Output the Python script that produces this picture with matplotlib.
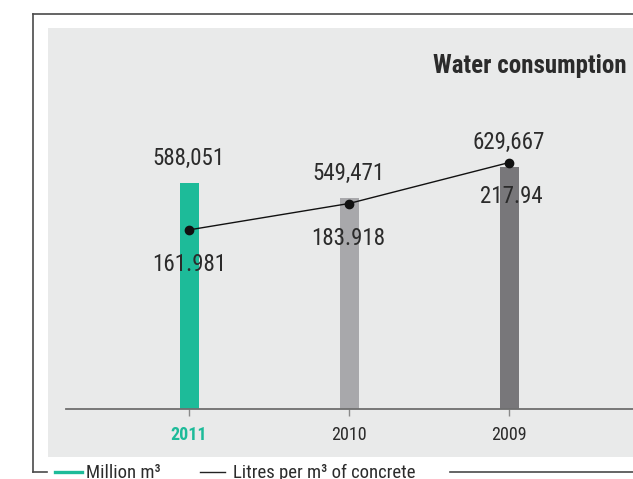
import matplotlib
matplotlib.use("Agg")
import os
import matplotlib.pyplot as plt
from matplotlib import font_manager
from matplotlib.font_manager import FontProperties
from matplotlib.lines import Line2D

# Data
years = ["2011", "2010", "2009"]
million_m3 = [588051, 549471, 629667]
million_labels = ["588,051", "549,471", "629,667"]
litres_per_m3 = [161.981, 183.918, 217.94]
litres_labels = ["161.981", "183.918", "217.94"]

TEAL = "#1dbb99"
BAR_COLORS = [TEAL, "#a8a8ab", "#78777a"]
PANEL = "#e9eaea"
TEXT = "#2b2b2b"


def pick_font(candidates, bold=False):
    """Return the first narrow/condensed sans font file found on the system."""
    files = [f.fname for f in font_manager.fontManager.ttflist]
    for cand in candidates:
        for fn in files:
            base = os.path.basename(fn).lower()
            if cand in base:
                if bold and "bold" not in base:
                    continue
                if not bold and ("bold" in base or "italic" in base or "oblique" in base
                                 or "light" in base or "thin" in base or "medium" in base
                                 or "black" in base or "semi" in base or "extra" in base):
                    continue
                return fn
    return None


regular_order = ["liberationsansnarrow-regular", "liberationsansnarrow",
                 "robotocondensed-regular", "robotocondensed",
                 "opensans_condensed-regular", "opensanscondensed",
                 "dejavusanscondensed.ttf", "dejavusanscondensed"]
bold_order = ["liberationsansnarrow-bold", "liberationsansnarrow",
              "robotocondensed-bold", "robotocondensed",
              "opensans_condensed-bold", "opensanscondensed",
              "dejavusanscondensed-bold", "dejavusanscondensed"]

reg_file = pick_font(regular_order)
bold_file = pick_font(bold_order, bold=True)


def fp(size, bold=False):
    f = bold_file if bold else reg_file
    if f:
        return FontProperties(fname=f, size=size)
    return FontProperties(family="DejaVu Sans", stretch="condensed", size=size,
                          weight="bold" if bold else "normal")


W, H = 633, 479
fig = plt.figure(figsize=(W / 100, H / 100), dpi=100)


def fx(px):
    return px / W


def fy(py):
    return 1 - py / H


# Panel / plot area
left, right, top, bottom = 47.5, 633, 28, 457
ax = fig.add_axes([fx(left), fy(bottom), fx(right - left), (bottom - top) / H])
ax.set_facecolor(PANEL)
x = list(range(len(years)))
spacing = 160.0
ax.set_xlim((left - 189) / spacing, (right - 189) / spacing)
k = 2600.0  # value per pixel
ax.set_ylim(-(bottom - 409) * k, (409 - top) * k)

ax.bar(x, million_m3, width=19 / spacing, color=BAR_COLORS, zorder=2)

for s in ["top", "right", "left"]:
    ax.spines[s].set_visible(False)
ax.spines["bottom"].set_position(("data", 0))
ax.spines["bottom"].set_bounds((66 - 189) / spacing, (right - 189) / spacing)
ax.spines["bottom"].set_color("#6f6f6f")
ax.spines["bottom"].set_linewidth(1.3)
ax.set_yticks([])
ax.set_xticks(x)
ax.set_xticklabels(years)
ax.tick_params(axis="x", length=5, width=1, direction="out", pad=7, colors="#8a8a8a")
for i, (tick, lab) in enumerate(zip(ax.xaxis.get_major_ticks(), ax.get_xticklabels())):
    lab.set_fontproperties(fp(13, bold=(i == 0)))
    if i == 0:
        tick.tick1line.set_color(TEAL)
        lab.set_color(TEAL)
    else:
        lab.set_color(TEXT)

# Line on secondary scale
ax2 = ax.twinx()
ax2.set_ylim(-26.8, 329.8)
ax2.axis("off")
ax2.plot(x, litres_per_m3, color="#111111", lw=1.0, marker="o", ms=6, zorder=3)

# Value labels (baseline offsets in pixels from the mark)
bar_offsets = [18, 18, 18]
for xi, v, lab, off in zip(x, million_m3, million_labels, bar_offsets):
    ax.annotate(lab, (xi, v), xytext=(0, off), textcoords="offset pixels",
                ha="center", va="baseline", fontproperties=fp(16.5), color=TEXT)
line_offsets = [-41, -41.5, -40]
line_dx = [0, -1, 2]
for xi, v, lab, off, dx in zip(x, litres_per_m3, litres_labels, line_offsets, line_dx):
    ax2.annotate(lab, (xi, v), xytext=(dx, off), textcoords="offset pixels",
                 ha="center", va="baseline", fontproperties=fp(16.5), color=TEXT)

# Title
fig.text(fx(626.5), fy(73.3), "Water consumption", ha="right", va="baseline",
         fontproperties=fp(18, bold=True), color=TEXT)

# Outer frame
frame_kw = dict(color="#4a4a4a", lw=1.2, transform=fig.transFigure)
fig.add_artist(Line2D([fx(33), fx(633)], [fy(14), fy(14)], **frame_kw))
fig.add_artist(Line2D([fx(33), fx(33)], [fy(14), fy(472)], **frame_kw))
fig.add_artist(Line2D([fx(33), fx(47)], [fy(472), fy(472)], **frame_kw))
fig.add_artist(Line2D([fx(450), fx(633)], [fy(472), fy(472)], **frame_kw))

# Legend
fig.add_artist(Line2D([fx(55), fx(82)], [fy(472), fy(472)], color=TEAL, lw=2.4,
                      transform=fig.transFigure))
fig.text(fx(86), fy(478.5), "Million m³", ha="left", va="baseline",
         fontproperties=fp(13.5), color=TEXT)
fig.add_artist(Line2D([fx(200), fx(225)], [fy(472), fy(472)], color="#222222", lw=1.0,
                      transform=fig.transFigure))
fig.text(fx(233), fy(478.5), "Litres per m³ of concrete", ha="left", va="baseline",
         fontproperties=fp(13.5), color=TEXT)

fig.savefig("out.png", dpi=100, facecolor="white")
